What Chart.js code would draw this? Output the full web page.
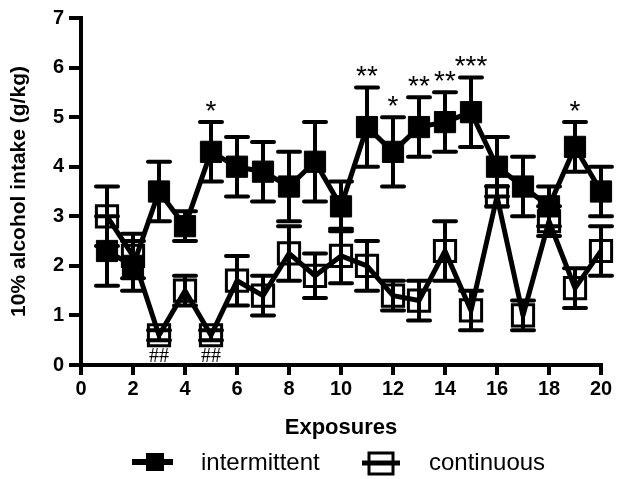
<!DOCTYPE html>
<html>
<head>
<meta charset="utf-8">
<script src="https://cdn.jsdelivr.net/npm/chart.js@4.4.1/dist/chart.umd.min.js"></script>
<style>
  html, body { margin: 0; padding: 0; background: #fff; }
  #chart-wrap { width: 619px; height: 479px; }
</style>
</head>
<body>
<div id="chart-wrap"><canvas id="alcohol-chart" width="619" height="479"></canvas></div>
<script>
// ---- data ----
const exposures = [1, 2, 3, 4, 5, 6, 7, 8, 9, 10, 11, 12, 13, 14, 15, 16, 17, 18, 19, 20];
const intermittentMean = [2.3, 2.0, 3.5, 2.8, 4.3, 4.0, 3.9, 3.6, 4.1, 3.2, 4.8, 4.3, 4.8, 4.9, 5.1, 4.0, 3.6, 3.2, 4.4, 3.5];
const intermittentErr  = [0.7, 0.5, 0.6, 0.3, 0.6, 0.6, 0.6, 0.7, 0.8, 0.5, 0.8, 0.7, 0.6, 0.6, 0.7, 0.6, 0.6, 0.4, 0.5, 0.5];
const continuousMean   = [3.0, 2.2, 0.6, 1.5, 0.6, 1.7, 1.4, 2.25, 1.8, 2.2, 2.0, 1.4, 1.3, 2.3, 1.1, 3.4, 1.0, 2.9, 1.55, 2.3];
const continuousErr    = [0.6, 0.45, 0.1, 0.3, 0.1, 0.5, 0.4, 0.55, 0.45, 0.55, 0.5, 0.3, 0.4, 0.6, 0.4, 0.2, 0.3, 0.3, 0.4, 0.5];
const starMarks = ['', '', '', '', '*', '', '', '', '', '', '**', '*', '**', '**', '***', '', '', '', '*', ''];
const hashMarks = ['', '', '##', '', '##', '', '', '', '', '', '', '', '', '', '', '', '', '', '', ''];
const seriesNames = ['intermittent', 'continuous'];
const xTickRange = [0, 20, 2];   // min, max, step
const yTickRange = [0, 7, 1];
const xTitle = 'Exposures';
const yTitle = '10% alcohol intake (g/kg)';

const FONT = "'Liberation Sans', Arial, Helvetica, sans-serif";

function toPoints(xs, ys) {
  return xs.map((x, i) => ({ x, y: ys[i] }));
}

// error bars: SEM up and down, with caps, via the chart scales
const errorBarPlugin = {
  id: 'errorBars',
  beforeDatasetsDraw(chart) {
    const { ctx, scales: { x, y } } = chart;
    const errs = [intermittentErr, continuousErr];
    const capHalf = 11;
    ctx.save();
    ctx.strokeStyle = '#000';
    ctx.lineWidth = 4;
    ctx.lineCap = 'round';
    chart.data.datasets.forEach((ds, d) => {
      ds.data.forEach((pt, i) => {
        const px = x.getPixelForValue(pt.x);
        const top = y.getPixelForValue(pt.y + errs[d][i]);
        const bot = y.getPixelForValue(pt.y - errs[d][i]);
        ctx.beginPath();
        ctx.moveTo(px, top);
        ctx.lineTo(px, bot);
        ctx.moveTo(px - capHalf, top);
        ctx.lineTo(px + capHalf, top);
        ctx.moveTo(px - capHalf, bot);
        ctx.lineTo(px + capHalf, bot);
        ctx.stroke();
      });
    });
    ctx.restore();
  },
};

// significance marks (* over intermittent, ## under continuous)
const marksPlugin = {
  id: 'sigMarks',
  afterDatasetsDraw(chart) {
    const { ctx, scales: { x, y } } = chart;
    ctx.save();
    ctx.fillStyle = '#000';
    ctx.textAlign = 'center';
    ctx.textBaseline = 'alphabetic';
    ctx.font = `28px ${FONT}`;
    exposures.forEach((e, i) => {
      if (!starMarks[i]) return;
      const capY = y.getPixelForValue(intermittentMean[i] + intermittentErr[i]);
      ctx.fillText(starMarks[i], x.getPixelForValue(e), capY - 2);
    });
    ctx.font = "20px 'Liberation Serif', 'Times New Roman', serif";
    exposures.forEach((e, i) => {
      if (!hashMarks[i]) return;
      ctx.fillText(hashMarks[i], x.getPixelForValue(e), y.getPixelForValue(0) - 3);
    });
    ctx.restore();
  },
};

// legend at the bottom: line + square symbol, then the name
const legendPlugin = {
  id: 'bottomLegend',
  afterDraw(chart) {
    const { ctx } = chart;
    const cy = 462;
    ctx.save();
    ctx.strokeStyle = '#000';
    ctx.fillStyle = '#000';

    // intermittent
    ctx.lineWidth = 6;
    ctx.beginPath();
    ctx.moveTo(132, cy);
    ctx.lineTo(173, cy);
    ctx.stroke();
    ctx.fillRect(146, cy - 9, 18, 18);

    // continuous
    ctx.lineWidth = 5;
    ctx.beginPath();
    ctx.moveTo(362, cy + 1);
    ctx.lineTo(400, cy + 1);
    ctx.stroke();
    ctx.lineWidth = 3;
    ctx.strokeRect(369, cy - 9, 24, 21);

    ctx.font = `24px ${FONT}`;
    ctx.textAlign = 'left';
    ctx.textBaseline = 'middle';
    ctx.fillText(seriesNames[0], 201, cy + 1);
    ctx.fillText(seriesNames[1], 429, cy + 1);
    ctx.restore();
  },
};

function axisStyle(range, tickLen, pad) {
  return {
    type: 'linear',
    min: range[0],
    max: range[1],
    ticks: {
      stepSize: range[2],
      color: '#000',
      padding: pad,
      maxRotation: 0,
      font: { family: FONT, size: 20, weight: 'bold' },
    },
    grid: {
      display: true,
      drawOnChartArea: false,
      drawTicks: true,
      tickLength: tickLen,
      lineWidth: 4,
      tickWidth: 4,
      tickColor: '#000',
    },
    border: { display: true, color: '#000', width: 4 },
  };
}

const xAxis = axisStyle(xTickRange, 10, 2);
xAxis.title = { display: true, text: xTitle, color: '#000', padding: 0, font: { family: FONT, size: 22, weight: 'bold' } };
xAxis.afterFit = (scale) => { scale.height = 76; };

const yAxis = axisStyle(yTickRange, 12, 5);
yAxis.title = { display: true, text: yTitle, color: '#000', padding: { top: 7, bottom: 0 }, font: { family: FONT, size: 21, weight: 'bold' } };
yAxis.afterFit = (scale) => { scale.width = 81; };

new Chart(document.getElementById('alcohol-chart'), {
  type: 'line',
  data: {
    datasets: [
      {
        label: seriesNames[0],
        data: toPoints(exposures, intermittentMean),
        borderColor: '#000',
        borderWidth: 5,
        borderJoinStyle: 'round',
        pointStyle: 'rect',
        pointRadius: 15,
        pointBackgroundColor: '#000',
        pointBorderColor: '#000',
        pointBorderWidth: 1,
        tension: 0,
        clip: false,
        order: 1,
      },
      {
        label: seriesNames[1],
        data: toPoints(exposures, continuousMean),
        borderColor: '#000',
        borderWidth: 5,
        borderJoinStyle: 'round',
        pointStyle: 'rect',
        pointRadius: 15,
        pointBackgroundColor: 'rgba(0,0,0,0)',
        pointBorderColor: '#000',
        pointBorderWidth: 3,
        tension: 0,
        clip: false,
        order: 0,
      },
    ],
  },
  options: {
    responsive: false,
    animation: false,
    devicePixelRatio: 1,
    layout: { padding: { left: 0, right: 13, top: 17, bottom: 38 } },
    plugins: {
      legend: { display: false },
      tooltip: { enabled: false },
    },
    scales: { x: xAxis, y: yAxis },
  },
  plugins: [errorBarPlugin, marksPlugin, legendPlugin],
});
</script>
</body>
</html>
